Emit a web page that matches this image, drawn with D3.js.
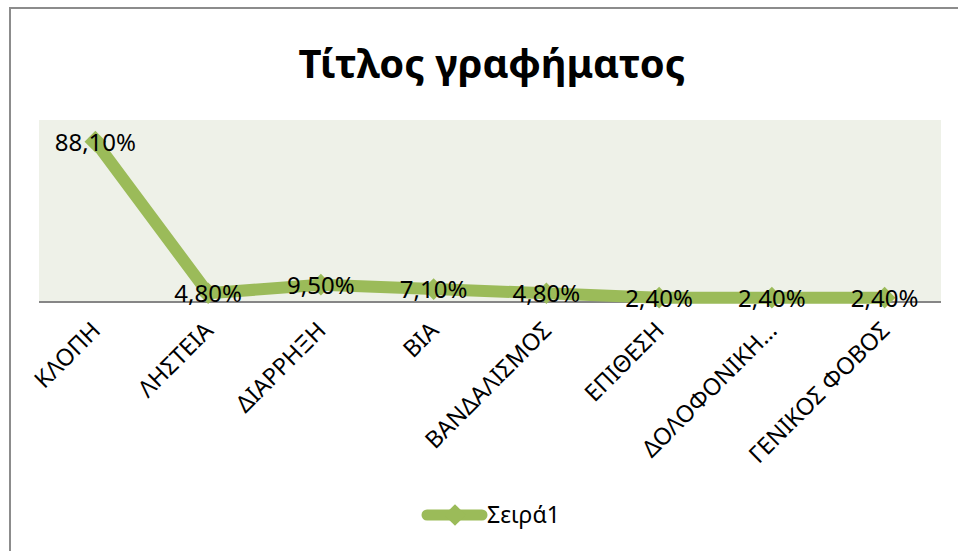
<!DOCTYPE html>
<html>
<head>
<meta charset="utf-8">
<script src="https://cdn.jsdelivr.net/npm/d3@7"></script>
<style>
  body { margin: 0; background: #fff; }
  svg { display: block; font-family: "Noto Sans", "Open Sans", sans-serif; }
</style>
</head>
<body>
<svg id="chart"></svg>
<script>
const categories = ["ΚΛΟΠΗ", "ΛΗΣΤΕΙΑ", "ΔΙΑΡΡΗΞΗ", "ΒΙΑ", "ΒΑΝΔΑΛΙΣΜΟΣ", "ΕΠΙΘΕΣΗ", "ΔΟΛΟΦΟΝΙΚΗ…", "ΓΕΝΙΚΟΣ ΦΟΒΟΣ"];
const values = [0.881, 0.048, 0.095, 0.071, 0.048, 0.024, 0.024, 0.024];
const seriesName = "Σειρά1";
const chartTitle = "Τίτλος γραφήματος";

const width = 958, height = 551;
const green = "#9BBB59";
const plot = { left: 39, right: 941, top: 120, bottom: 302 };

const svg = d3.select("#chart").attr("width", width).attr("height", height);

// outer chart border (only top and left visible in frame)
svg.append("rect")
  .attr("x", 10).attr("y", 8)
  .attr("width", 960).attr("height", 560)
  .attr("fill", "none")
  .attr("stroke", "#8c8c8c")
  .attr("stroke-width", 2);

svg.append("text")
  .attr("x", 492).attr("y", 78)
  .attr("text-anchor", "middle")
  .attr("font-size", 40)
  .attr("font-weight", "bold")
  .attr("fill", "#000")
  .text(chartTitle);

const x = d3.scalePoint()
  .domain(categories)
  .range([plot.left, plot.right])
  .padding(0.5);

const y = d3.scaleLinear()
  .domain([0, 1])
  .range([plot.bottom, plot.top]);

svg.append("rect")
  .attr("x", plot.left).attr("y", plot.top)
  .attr("width", plot.right - plot.left)
  .attr("height", plot.bottom - plot.top)
  .attr("fill", "#EEF1E8");

const xAxis = svg.append("g")
  .attr("transform", `translate(0,${plot.bottom})`)
  .call(d3.axisBottom(x).tickSize(0).tickPadding(0));

xAxis.select(".domain")
  .attr("d", `M${plot.left},0H${plot.right}`)
  .attr("stroke", "#868686")
  .attr("stroke-width", 2);

xAxis.selectAll(".tick text")
  .attr("font-size", 23.5)
  .attr("font-family", "Noto Sans, sans-serif")
  .attr("fill", "#000")
  .attr("text-anchor", "end")
  .attr("dy", 0)
  .attr("transform", "translate(6,30) rotate(-45)");

const data = categories.map((c, i) => ({ c, v: values[i] }));

const line = d3.line()
  .x(d => x(d.c))
  .y(d => y(d.v));

svg.append("path")
  .datum(data)
  .attr("d", line)
  .attr("fill", "none")
  .attr("stroke", green)
  .attr("stroke-width", 12)
  .attr("stroke-linejoin", "round")
  .attr("stroke-linecap", "round");

const diamond = d3.symbol().type(d3.symbolDiamond2).size(300);

svg.append("g").selectAll("path")
  .data(data)
  .join("path")
  .attr("d", diamond)
  .attr("transform", d => `translate(${x(d.c)},${y(d.v)})`)
  .attr("fill", green);

const fmt = v => (v * 100).toFixed(2).replace(".", ",") + "%";

svg.append("g").selectAll("text")
  .data(data)
  .join("text")
  .attr("x", d => x(d.c))
  .attr("y", d => y(d.v) + 9)
  .attr("text-anchor", "middle")
  .attr("font-size", 24)
  .attr("fill", "#000")
  .text(d => fmt(d.v));

// legend
const legend = svg.append("g").attr("transform", "translate(427,515)");
legend.append("line")
  .attr("x1", 0).attr("x2", 55)
  .attr("stroke", green)
  .attr("stroke-width", 11)
  .attr("stroke-linecap", "round");
legend.append("path")
  .attr("d", diamond)
  .attr("transform", "translate(28,0)")
  .attr("fill", green);
legend.append("text")
  .attr("x", 60).attr("y", 8)
  .attr("font-size", 23)
  .attr("fill", "#000")
  .text(seriesName);
</script>
</body>
</html>
